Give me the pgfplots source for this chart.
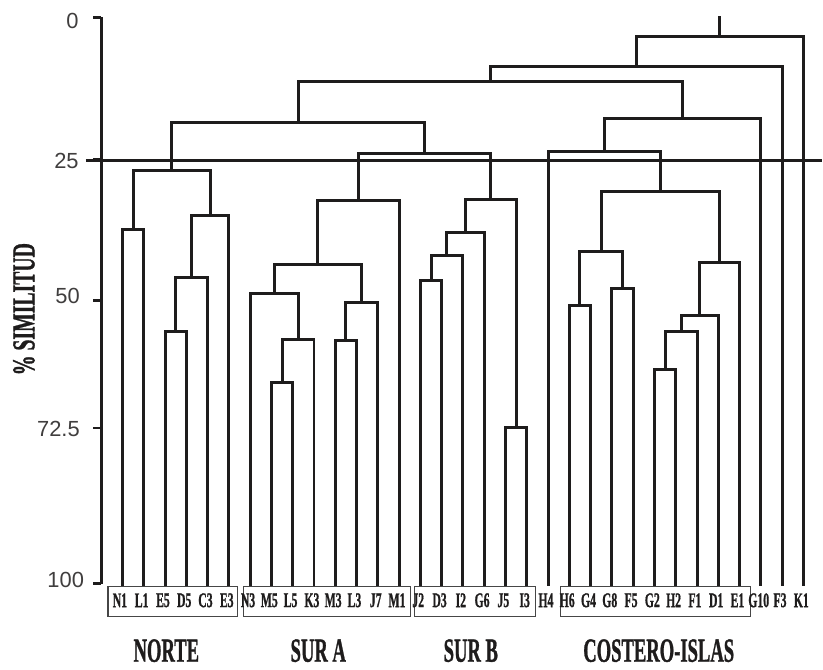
\documentclass[border=0pt]{standalone}
\usepackage{graphicx}
\usepackage{pgfplots}
\pgfplotsset{compat=1.18}
\usepackage{fontspec}
\setmainfont{Liberation Serif}
\newfontfamily\hvy[BoldFeatures={FakeBold=1.3}]{Liberation Serif}
\newfontfamily\ticksf{Liberation Sans}
\definecolor{lc}{RGB}{30,28,28}
\definecolor{bx}{RGB}{70,70,70}
\newcommand\lf[1]{\scalebox{0.56}[1]{\hvy\fontsize{21}{21}\selectfont\bfseries #1}}
\newcommand\gf[1]{\scalebox{0.55}[1]{\hvy\fontsize{34}{34}\selectfont\bfseries #1}}
\newcommand\tf[1]{{\ticksf\fontsize{22}{22}\selectfont\color{lc!85}#1}}
\begin{document}
\begin{tikzpicture}
\begin{axis}[
  x=21.32bp, y=5.675bp, y dir=reverse,
  xmin=0, xmax=33.85, ymin=0, ymax=100,
  axis x line=none, axis y line=left,
  axis line style={-},
  y axis line style={-, line width=3.2bp, color=lc},
  ytick={0,25,50,72.5,100}, yticklabels={},
  tick align=outside, major tick length=8bp,
  tick style={line width=2.8bp, color=lc},
  clip=false,
  lk/.style={draw=lc, solid, line width=3bp, line join=miter, mark=none},
  bxs/.style={draw=bx, solid, line width=1.2bp, mark=none},
]
% invisible frame for the picture size
\addplot[draw=none, mark=none] coordinates {(-4.756,-3.08)(33.85,115.15)};

% NORTE
\addplot[lk] coordinates {(1,100.3)(1,37.5)(2,37.5)(2,100.3)};
\addplot[lk] coordinates {(3,100.3)(3,55.4)(4,55.4)(4,100.3)};
\addplot[lk] coordinates {(3.5,55.4)(3.5,46.0)(5,46.0)(5,100.3)};
\addplot[lk] coordinates {(4.25,46.0)(4.25,35.0)(6,35.0)(6,100.3)};
\addplot[lk] coordinates {(1.5,37.5)(1.5,27.0)(5.125,27.0)(5.125,35.0)};
% SUR A
\addplot[lk] coordinates {(8,100.3)(8,64.4)(9,64.4)(9,100.3)};
\addplot[lk] coordinates {(8.5,64.4)(8.5,56.8)(10,56.8)(10,100.3)};
\addplot[lk] coordinates {(7,100.3)(7,48.7)(9.25,48.7)(9.25,56.8)};
\addplot[lk] coordinates {(11,100.3)(11,57.0)(12,57.0)(12,100.3)};
\addplot[lk] coordinates {(11.5,57.0)(11.5,50.3)(13,50.3)(13,100.3)};
\addplot[lk] coordinates {(8.125,48.7)(8.125,43.6)(12.25,43.6)(12.25,50.3)};
\addplot[lk] coordinates {(10.1875,43.6)(10.1875,32.3)(14,32.3)(14,100.3)};
% SUR B
\addplot[lk] coordinates {(15,100.3)(15,46.4)(16,46.4)(16,100.3)};
\addplot[lk] coordinates {(15.5,46.4)(15.5,42.0)(17,42.0)(17,100.3)};
\addplot[lk] coordinates {(16.25,42.0)(16.25,38.0)(18,38.0)(18,100.3)};
\addplot[lk] coordinates {(19,100.3)(19,72.4)(20,72.4)(20,100.3)};
\addplot[lk] coordinates {(17.125,38.0)(17.125,32.2)(19.5,32.2)(19.5,72.4)};
\addplot[lk] coordinates {(12.09375,32.3)(12.09375,24.1)(18.3125,24.1)(18.3125,32.2)};
\addplot[lk] coordinates {(3.3125,27.0)(3.3125,18.6)(15.203,18.6)(15.203,24.1)};
% COSTERO-ISLAS
\addplot[lk] coordinates {(22,100.3)(22,50.8)(23,50.8)(23,100.3)};
\addplot[lk] coordinates {(24,100.3)(24,47.9)(25,47.9)(25,100.3)};
\addplot[lk] coordinates {(22.5,50.8)(22.5,41.4)(24.5,41.4)(24.5,47.9)};
\addplot[lk] coordinates {(26,100.3)(26,62.2)(27,62.2)(27,100.3)};
\addplot[lk] coordinates {(26.5,62.2)(26.5,55.4)(28,55.4)(28,100.3)};
\addplot[lk] coordinates {(27.25,55.4)(27.25,52.7)(29,52.7)(29,100.3)};
\addplot[lk] coordinates {(28.125,52.7)(28.125,43.2)(30,43.2)(30,100.3)};
\addplot[lk] coordinates {(23.5,41.4)(23.5,30.8)(29.0625,30.8)(29.0625,43.2)};
\addplot[lk] coordinates {(21,100.3)(21,23.6)(26.28125,23.6)(26.28125,30.8)};
\addplot[lk] coordinates {(23.640625,23.6)(23.640625,17.9)(31,17.9)(31,100.3)};
% upper links
\addplot[lk] coordinates {(9.2578,18.6)(9.2578,11.3)(27.3203,11.3)(27.3203,17.9)};
\addplot[lk] coordinates {(18.289,11.3)(18.289,8.7)(32,8.7)(32,100.3)};
\addplot[lk] coordinates {(25.1445,8.7)(25.1445,3.3)(33,3.3)(33,100.3)};
\addplot[lk] coordinates {(29.0723,3.3)(29.0723,-0.3)};
% cut line
\addplot[lk] coordinates {(-0.72,25.3)(33.85,25.3)};

% group boxes
\addplot[bxs] coordinates {(0.324,100.4)(6.42,100.4)(6.42,105.7)(0.324,105.7)} -- cycle;
\addplot[bxs] coordinates {(6.70,100.4)(14.55,100.4)(14.55,105.7)(6.70,105.7)} -- cycle;
\addplot[bxs] coordinates {(14.74,100.4)(20.42,100.4)(20.42,105.7)(14.74,105.7)} -- cycle;
\addplot[bxs] coordinates {(21.59,100.4)(30.53,100.4)(30.53,105.7)(21.59,105.7)} -- cycle;

% leaf labels
\addplot[draw=none, mark=none, nodes near coords={\lf{\pgfplotspointmeta}},
  nodes near coords align={center}, point meta=explicit symbolic,
  every node near coord/.append style={text=lc, inner sep=0pt}]
  table[meta=lab]{
x y lab
0.88 102.9 N1
1.9 102.9 L1
2.9 102.9 E5
3.9 102.9 D5
4.9 102.9 C3
5.9 102.9 E3
6.9 102.9 N3
7.9 102.9 M5
8.9 102.9 L5
9.9 102.9 K3
10.9 102.9 M3
11.9 102.9 L3
12.9 102.9 J7
13.9 102.9 M1
14.9 102.9 J2
15.9 102.9 D3
16.9 102.9 I2
17.9 102.9 G6
18.9 102.9 J5
19.9 102.9 I3
20.9 102.9 H4
21.9 102.9 H6
22.9 102.9 G4
23.9 102.9 G8
24.9 102.9 F5
25.9 102.9 G2
26.9 102.9 H2
27.9 102.9 F1
28.9 102.9 D1
29.9 102.9 E1
30.9 102.9 G10
31.9 102.9 F3
32.9 102.9 K1
};

% group labels
\node[text=lc] at (axis cs:3.06,111.8) {\gf{NORTE}};
\node[text=lc] at (axis cs:10.2,111.8) {\gf{SUR A}};
\node[text=lc] at (axis cs:17.37,111.8) {\gf{SUR B}};
\node[text=lc] at (axis cs:26.2,111.8) {\gf{COSTERO-ISLAS}};

% y tick labels
\node[anchor=east, inner sep=0pt] at (axis cs:-1.05,0.7) {\tf{0}};
\node[anchor=east, inner sep=0pt] at (axis cs:-1.05,25.3) {\tf{25}};
\node[anchor=east, inner sep=0pt] at (axis cs:-1.0,49.2) {\tf{50}};
\node[anchor=east, inner sep=0pt] at (axis cs:-1.0,72.7) {\tf{72.5}};
\node[anchor=east, inner sep=0pt] at (axis cs:-0.8,99.3) {\tf{100}};

% y axis label
\node[rotate=90, text=lc] at (axis cs:-3.63,51.5) {\scalebox{0.62}[1]{\hvy\fontsize{32}{32}\selectfont\bfseries \% SIMILITUD}};
\end{axis}
\end{tikzpicture}
\end{document}
